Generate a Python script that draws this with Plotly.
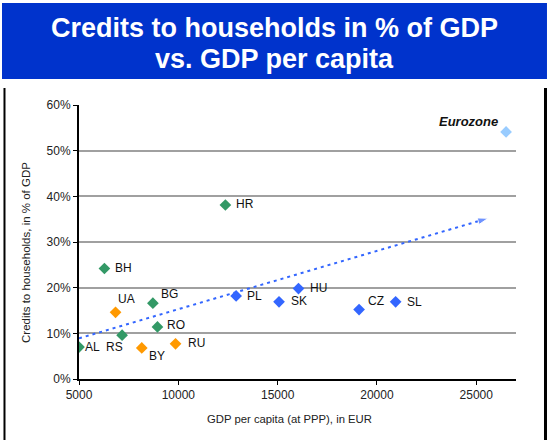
import plotly.graph_objects as go

# GDP per capita (PPP, EUR) vs. household credit (% of GDP), grouped by region
countries = ["AL", "BH", "HR", "BG", "RO", "RS", "UA", "BY", "RU",
             "PL", "SK", "HU", "CZ", "SL", "Eurozone"]
gdp_pc = [5000, 6280, 12370, 8720, 8950, 7170, 6840, 8160, 9860,
          12910, 15070, 16050, 19100, 20940, 26500]
credit_pct = [7.0, 24.2, 38.1, 16.6, 11.4, 9.6, 14.6, 6.8, 7.7,
              18.2, 16.9, 19.8, 15.2, 16.9, 54.1]
groups = ["see", "see", "see", "see", "see", "see", "cis", "cis", "cis",
          "cee", "cee", "cee", "cee", "cee", "ez"]

# dotted trend arrow (start, end)
trend_x = [5000, 25600]
trend_y = [8.9, 35.2]

title_lines = ["Credits to households in % of GDP", "vs. GDP per capita"]

group_colors = {"see": "#339966", "cis": "#FF9900", "cee": "#3366FF", "ez": "#99CCFF"}

# label placement: (xanchor, xshift, yshift)
label_pos = {
    "AL": ("left", 4, 0), "BH": ("left", 9, 0), "HR": ("left", 9, 1),
    "BG": ("left", 6, 9), "RO": ("left", 8, 2), "RS": ("right", 3, -12),
    "UA": ("left", 0, 13), "BY": ("left", 5, -8), "RU": ("left", 10, 1),
    "PL": ("left", 9, 0), "SK": ("left", 10, 1), "HU": ("left", 10, 1),
    "CZ": ("left", 7, 9), "SL": ("left", 9, 0), "Eurozone": ("right", -6, 10),
}

FONT = "Liberation Sans, Arial, sans-serif"

fig = go.Figure()

fig.add_trace(go.Scatter(
    x=trend_x, y=trend_y, mode="lines+markers",
    line=dict(color="#3366FF", width=2, dash="3px,4px"),
    marker=dict(symbol="arrow", size=[0, 11], angleref="previous", color="#3366FF"),
    hoverinfo="skip", showlegend=False,
))

for g in ["see", "cis", "cee", "ez"]:
    idx = [i for i, gg in enumerate(groups) if gg == g]
    fig.add_trace(go.Scatter(
        x=[gdp_pc[i] for i in idx], y=[credit_pct[i] for i in idx],
        text=[countries[i] for i in idx], mode="markers",
        marker=dict(symbol="diamond", size=9, color=group_colors[g]),
        showlegend=False,
    ))

annotations = []
for c, xv, yv in zip(countries, gdp_pc, credit_pct):
    anchor, xs, ys = label_pos[c]
    ez = c == "Eurozone"
    annotations.append(dict(
        x=xv, y=yv, xref="x", yref="y", text=f"<b><i>{c}</i></b>" if ez else c,
        showarrow=False, xanchor=anchor, yanchor="middle", xshift=xs, yshift=ys,
        font=dict(family=FONT, size=13 if ez else 12, color="#111"),
    ))

# headline inside the blue banner, one annotation per line
for line, ypos in zip(title_lines, [1.281, 1.168]):
    annotations.append(dict(
        x=0.4485, y=ypos, xref="paper", yref="paper",
        text=f"<b>{line}</b>", showarrow=False,
        xanchor="center", yanchor="middle",
        font=dict(family=FONT, size=27, color="white"),
    ))
# axis titles
annotations.append(dict(
    x=-0.1213, y=0.4635, xref="paper", yref="paper", textangle=-90,
    text="Credits to households, in % of GDP", showarrow=False,
    xanchor="center", yanchor="middle",
    font=dict(family=FONT, size=11.5, color="#222"),
))
annotations.append(dict(
    x=0.481, y=-0.146, xref="paper", yref="paper",
    text="GDP per capita (at PPP), in EUR", showarrow=False,
    xanchor="center", yanchor="middle",
    font=dict(family=FONT, size=11.3, color="#222"),
))

shapes = [
    dict(type="rect", xref="paper", yref="paper", x0=-0.1762, x1=1.0709,
         y0=1.0949, y1=1.3723, fillcolor="#0033CC", line=dict(width=0), layer="below"),
    dict(type="line", xref="paper", yref="paper", x0=-0.1705, x1=-0.1705,
         y0=1.062, y1=-0.25, line=dict(color="black", width=2)),
    dict(type="line", xref="paper", yref="paper", x0=1.0675, x1=1.0675,
         y0=1.062, y1=-0.25, line=dict(color="black", width=3)),
]

fig.update_layout(
    width=549, height=440,
    margin=dict(l=79, r=33, t=105, b=61),
    paper_bgcolor="white", plot_bgcolor="white",
    font=dict(family=FONT, size=12, color="#222"),
    annotations=annotations, shapes=shapes,
    xaxis=dict(range=[5000, 27000], tick0=5000, dtick=5000, tickformat="d",
               showgrid=False, zeroline=False, showline=True, linecolor="black",
               linewidth=2, ticks="outside", ticklen=4, tickcolor="black",
               tickfont=dict(family=FONT, size=12, color="#222")),
    yaxis=dict(range=[0, 60], tick0=0, dtick=10, ticksuffix="%",
               showgrid=True, gridcolor="#A0A0A0", gridwidth=1.5, zeroline=False,
               showline=True, linecolor="black", linewidth=2, ticks="outside",
               ticklen=4, tickcolor="black",
               tickfont=dict(family=FONT, size=12, color="#222")),
)

fig.write_html("out.html")
